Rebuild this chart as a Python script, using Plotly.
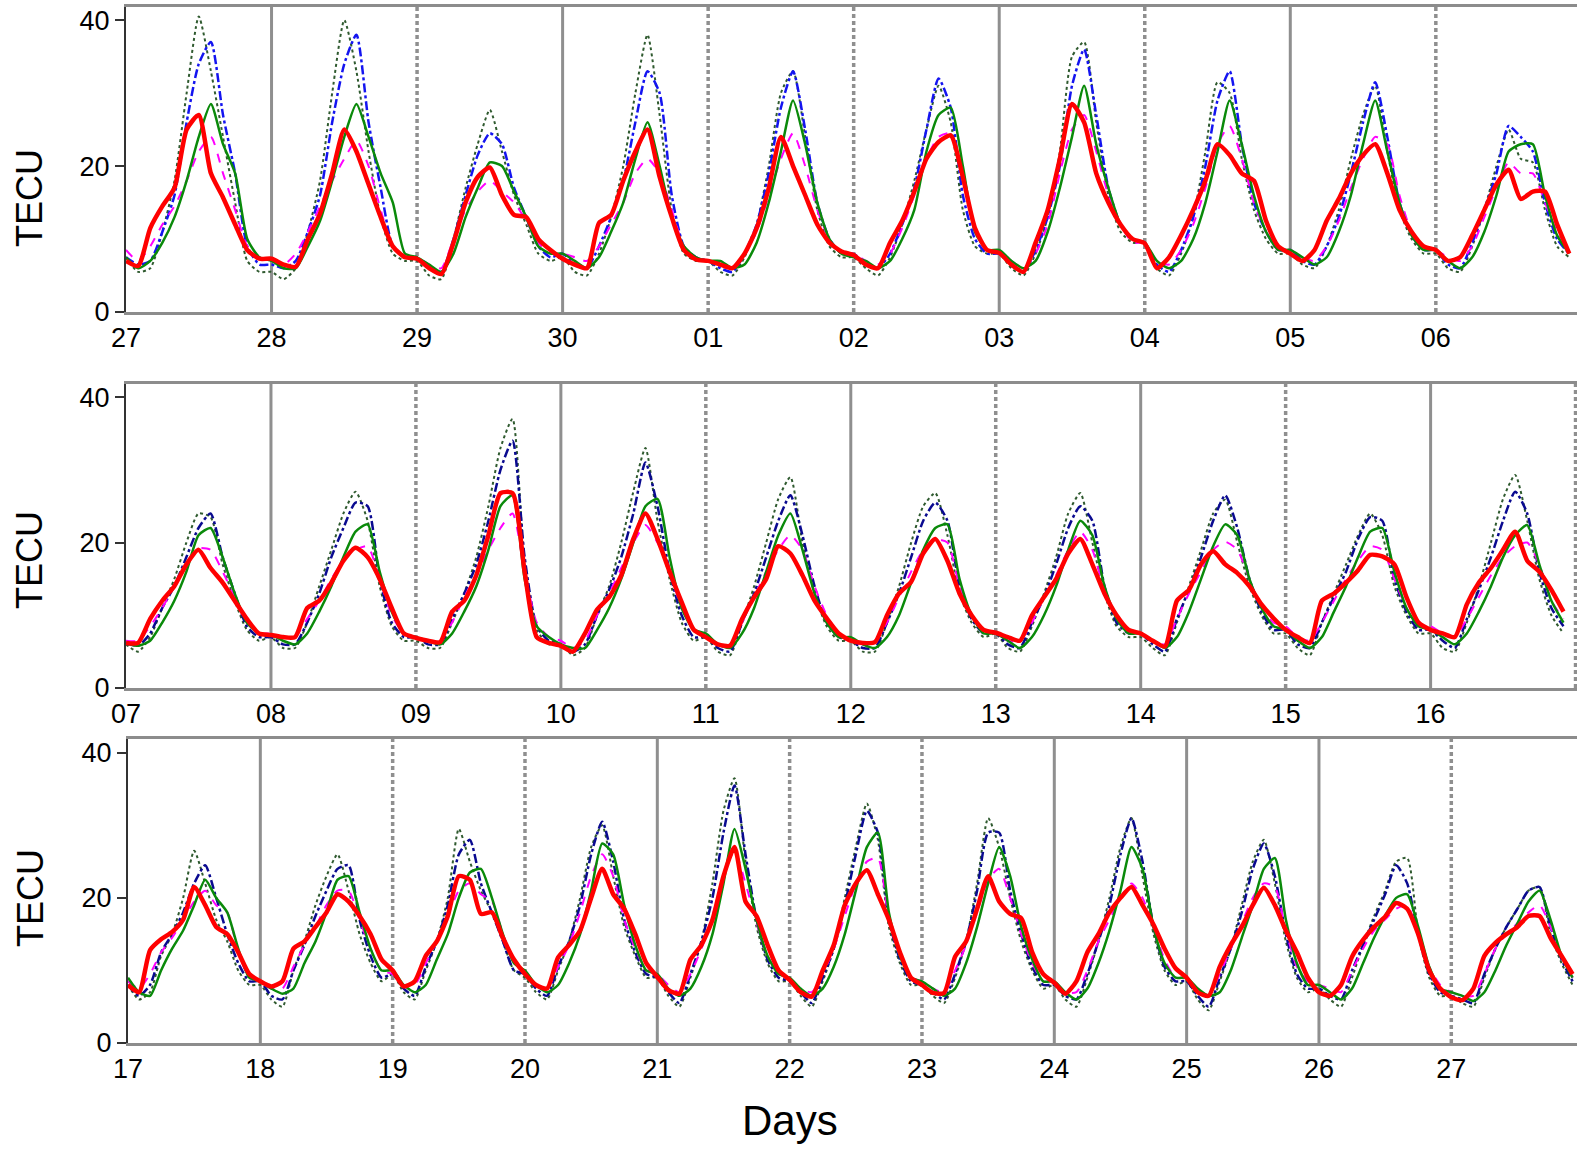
import plotly.graph_objects as go

W, H = 1577, 1149
FONT = "Liberation Sans, Arial, sans-serif"

HOURS = [0, 2, 4, 6, 8, 10, 12, 14, 16, 18, 20, 22]

P1_DAYS = ["27", "28", "29", "30", "01", "02", "03", "04", "05", "06"]
P2_DAYS = ["07", "08", "09", "10", "11", "12", "13", "14", "15", "16"]
P3_DAYS = ["17", "18", "19", "20", "21", "22", "23", "24", "25", "26", "27"]
Y_TICKS = [0, 20, 40]

# ---------------- Panel 1 ----------------
P1_RED = [
    [7, 6.3, 11.5, 14.5, 17, 25, 27, 19, 15.7, 12, 8.5, 7.3],
    [7.3, 6.5, 6.2, 10, 13.5, 19, 25, 22, 17.5, 13, 9, 7.5],
    [7.3, 6, 5.2, 9.5, 15, 18.5, 19.8, 16, 13.3, 13, 10, 8.5],
    [7.3, 6.5, 6, 12.2, 13.3, 18, 22, 25, 18.5, 13, 8.5, 7.2],
    [7, 6.5, 6, 8, 11.5, 17, 24, 20, 16, 12, 9.5, 8.3],
    [7.8, 6.5, 6, 9.5, 12.5, 16.5, 21, 23.3, 24.2, 18.5, 11.5, 8.5],
    [8.1, 6.5, 5.5, 9.5, 14, 21, 28.5, 26, 19, 15, 12, 10],
    [9.4, 6, 7.5, 10.5, 14, 18, 23, 21.5, 19, 18, 12.5, 9],
    [8, 7, 8.5, 12.5, 15.5, 19, 21.5, 23, 19, 14, 11, 9],
    [8.5, 7, 7.5, 10.5, 14, 17.5, 19.5, 15.5, 16.5, 16.5, 12, 8],
]
P1_GREEN = [
    [7.5, 6, 7, 9.5, 13, 18, 24, 28.5, 23, 19, 10, 7.5],
    [7, 6, 6, 9, 12.5, 18, 24, 28.5, 24, 19, 15, 8],
    [7.5, 6.5, 5.5, 8, 13, 17, 20.5, 20, 16.5, 13, 9, 8],
    [8, 7, 6, 7.5, 11, 15, 21, 26, 20, 13, 9, 7.5],
    [7, 7, 6, 6.5, 9.5, 15, 22, 29, 23, 15, 10, 8],
    [7.5, 7, 6, 7, 10, 14, 22, 27, 28, 20, 11, 8.5],
    [8.5, 7, 6, 7, 11, 17, 24, 31, 23, 17, 12, 10],
    [9.5, 7, 6, 7, 10, 15, 22, 29, 23, 16, 11, 8.5],
    [8.5, 7.5, 6.5, 7.5, 11, 16, 23, 29, 22, 15, 10.5, 8.5],
    [8.5, 7, 6, 7.5, 11, 16, 22, 23, 23, 16, 10.5, 8],
]
P1_MAG = [
    [8.5, 7, 9, 12, 14.5, 18, 22, 24, 19, 14, 9, 7.5],
    [7, 6.5, 8, 11, 14.5, 18, 21, 23.5, 20, 14, 9, 7.5],
    [7.5, 6.5, 6, 10, 14, 16.5, 18, 16.5, 15, 12.5, 9.5, 8],
    [8, 7.5, 7, 9, 12, 15, 19, 21, 19, 14, 9, 7.5],
    [7, 6.5, 6, 8, 11, 16, 21, 24.5, 20, 14, 10, 8],
    [8, 7, 6.5, 8, 11.5, 16, 21, 24, 24.5, 19, 11, 8.5],
    [8, 7, 6, 8, 12, 19, 25, 27, 22, 16, 12, 9.5],
    [9.5, 7, 6.5, 8.5, 12, 17, 23, 25.5, 21, 15, 11, 8.5],
    [8.5, 7.5, 7, 9, 12.5, 17, 21, 24, 23, 16, 11, 9],
    [8.5, 7.5, 7, 9, 13, 17, 20.5, 19, 19, 15, 11, 8.5],
]
P1_BLUE = [
    [7.5, 6.5, 7, 11, 16, 26, 34, 37, 27, 19, 9, 6.5],
    [6.5, 6, 7, 11, 16, 26, 34, 38, 26, 17, 9, 7.5],
    [7.5, 6, 5.5, 10, 16, 21.5, 24.5, 23, 17, 13, 9, 7.5],
    [8, 6.5, 6, 9, 13, 18, 26, 33, 30, 16, 9, 7.5],
    [7, 6, 5.5, 8, 12, 19, 28, 33, 25, 15, 10, 8],
    [8, 6.5, 6, 8, 12, 17, 25, 32, 28, 16, 10, 8],
    [8, 6.5, 5.5, 8.5, 13, 20, 31, 36, 27, 17, 12, 10],
    [9.5, 6.5, 5.5, 8.5, 13, 20, 29, 33, 23, 15, 11, 8.5],
    [8.5, 7, 6.5, 9, 13, 19, 26, 31.5, 24, 15, 10.5, 8.5],
    [8.5, 6.5, 6, 9.5, 14, 19, 25.5, 24, 22, 15, 10, 8],
]
P1_ENV = [
    [7.5, 5.5, 6, 11, 18, 30, 40.5, 33, 24, 15, 7, 5.5],
    [5.5, 4.5, 6, 11, 18, 30, 40, 33, 22, 13, 8, 7],
    [7, 5, 4.5, 10, 17, 23, 27.7, 22, 16, 12, 8, 7],
    [7.5, 5.5, 5, 8, 13, 20, 30, 38, 27, 14, 8, 7],
    [7, 5.5, 5, 7.5, 12, 20, 30, 33, 24, 14, 9, 7.5],
    [7.5, 6, 5, 7.5, 12, 18, 25, 31, 26, 14, 9, 8],
    [8, 6, 5, 8, 13, 22, 35, 37, 26, 16, 11, 9.5],
    [9.5, 6, 5, 8, 13, 22, 31.5, 30, 21, 14, 10, 8],
    [8, 6.5, 6, 9, 14, 21, 27, 31, 22, 14, 10, 8],
    [8, 6, 5.5, 9, 14, 20, 25, 21, 20.5, 14, 9, 7.5],
]

# ---------------- Panel 2 ----------------
P2_RED = [
    [6.2, 6.2, 9.5, 12, 14, 17, 19, 16.5, 14.5, 12, 9.5, 7.5],
    [7.3, 7, 7, 11, 12, 14.5, 17.5, 19.3, 18, 15, 11, 7.5],
    [6.9, 6.5, 6.3, 10.5, 12, 15.5, 21, 26.8, 26.8, 16, 7, 6.2],
    [5.8, 5, 7.5, 10.8, 12.5, 15.5, 20.5, 24, 20.5, 16, 11.8, 8],
    [7, 6, 5.8, 9.5, 12.5, 15, 19.5, 18.5, 15.5, 12, 9.6, 7.5],
    [6.5, 6.2, 6.3, 10, 13, 14.6, 18.5, 20.5, 17.5, 13, 10, 8],
    [7.6, 7, 6.5, 10, 12.5, 15, 18.5, 20.5, 17, 13, 10, 8],
    [7.5, 6.5, 5.7, 12, 13.5, 17, 18.8, 17, 15.8, 14, 11.5, 9.6],
    [8, 7, 6.2, 12, 13, 14.5, 16.2, 18.3, 18.1, 17, 12.5, 9],
    [8, 7.5, 7, 11.5, 14.5, 16.5, 19, 21.5, 17.5, 16, 13.5, 10.5],
]
P2_GREEN = [
    [6.2, 5.8, 6.5, 9, 12, 16, 21, 22, 18, 13, 9, 7.5],
    [7.3, 6.5, 6, 7.5, 10.5, 14, 18, 21.5, 22.5, 16, 10.5, 7.5],
    [7, 6.5, 6, 7.5, 10.5, 14, 19, 25, 26.5, 15, 8.5, 7],
    [6, 5.5, 5.5, 8, 11, 15, 20, 25, 26, 18, 11, 8],
    [7.5, 6, 5.5, 7.5, 11, 16, 21, 24, 19, 13, 9, 7],
    [7, 6, 5.5, 7, 10, 14.5, 19, 22, 22.5, 15, 10, 7.5],
    [7.5, 6.5, 5.5, 7, 10, 14, 19, 23, 21, 14, 9.5, 7.5],
    [7.5, 6.5, 5.5, 7, 10.5, 15, 19.5, 22.5, 21, 15, 11, 8.5],
    [8, 6.5, 5.5, 7, 10.5, 14, 18, 21.5, 22, 16, 11, 8.5],
    [8, 7, 6, 7.5, 10.5, 14, 18, 21, 22.4, 17, 12, 9],
]
P2_MAG = [
    [6.5, 6.5, 8.5, 11, 14, 17, 19.2, 19, 16, 12.5, 9, 7.5],
    [7.5, 7, 7, 9.5, 12, 15, 17.5, 19, 19.5, 15, 10, 7.5],
    [7, 6.5, 6.5, 9, 12.5, 15.5, 19, 22, 24, 16, 9, 7],
    [6.5, 5.5, 6.5, 10, 13, 16.5, 20, 22.4, 20, 16, 11, 8],
    [7, 6, 6, 9, 12.5, 16, 19, 21, 19, 14, 10, 7.5],
    [6.5, 6, 6.5, 9, 12.5, 16, 19, 20.4, 20, 14, 10, 8],
    [7.5, 6.5, 6.5, 9, 12.5, 15.5, 19, 21.5, 19, 13.5, 10, 8],
    [7.5, 6.5, 6, 9.5, 13, 16, 19, 20.1, 19, 15, 11, 9],
    [8.5, 7, 6.5, 9, 12, 15, 17.5, 19.5, 19, 15, 11, 8.5],
    [8.5, 7.5, 7, 9.5, 12.5, 15.5, 18, 19.5, 20, 17, 12, 9.5],
]
P2_BLUE = [
    [6.2, 5.8, 7.5, 11, 14, 18, 22, 24, 18, 13, 8.5, 7],
    [7, 6, 6, 9, 13, 18, 22, 25.5, 25, 15, 9, 7],
    [7, 6, 6, 9.5, 13, 17, 23, 30, 34, 18, 8.5, 6.5],
    [6, 5, 6, 10, 13.5, 18, 24, 31, 25, 16, 10, 7],
    [7, 5.5, 5, 9, 13, 18, 23, 26.5, 21, 14, 9, 7],
    [6.5, 5.5, 5.5, 9, 13, 18, 23, 25.5, 23, 14, 9.5, 7.5],
    [7.5, 6, 5.5, 9, 12.5, 17, 22, 25, 23, 14, 9, 7.5],
    [7.5, 6, 5, 9.5, 13.5, 18, 23, 26.5, 22, 15, 10.5, 8],
    [8, 6, 5.5, 9, 12.5, 16, 20.5, 23.5, 23, 15, 10.5, 8],
    [8, 6.5, 5.5, 9.5, 13.5, 18, 23, 27, 24, 16, 11, 8.5],
]
P2_ENV = [
    [6, 5, 7, 11, 15, 20, 24, 23.5, 17, 12, 8, 6.5],
    [7, 5.5, 5.5, 9, 14, 19, 24, 27, 23, 14, 8.5, 6.5],
    [6.5, 5.5, 5.5, 9, 13, 18, 25, 33, 37, 17, 8, 6],
    [6, 4.5, 5.5, 10, 14, 20, 27, 33, 23, 15, 9, 6.5],
    [7, 5, 4.5, 9, 14, 20, 26, 29, 20, 13, 8.5, 6.5],
    [6.5, 5, 5, 9, 14, 20, 25, 26.8, 21, 13, 9, 7],
    [7.5, 5.5, 5, 8.5, 13, 18, 24, 26.8, 20, 13, 8.5, 7],
    [7, 5.5, 4.5, 9, 14, 19, 24, 25.9, 20, 14, 10, 7.5],
    [7.5, 5.5, 4.5, 9, 13, 17, 21, 24, 21, 14, 10, 7.5],
    [7.5, 5.5, 5, 9, 14, 20, 26, 29.3, 23, 15, 10, 7.5],
]

# ---------------- Panel 3 ----------------
P3_RED = [
    [8, 7, 12.8, 14.3, 15.3, 17, 21.5, 19, 16, 15, 12.5, 9.5],
    [8.5, 7.8, 8.5, 13, 14, 16, 18, 20.5, 19.5, 17.5, 15, 11.5],
    [10, 7.8, 8.5, 12, 14, 17.5, 23, 22.5, 17.8, 18, 14.5, 11.5],
    [9.5, 8, 7.5, 11.8, 13.5, 15.5, 20, 24, 20.5, 18.5, 15, 11],
    [9.1, 7.3, 6.8, 11.5, 13.5, 17, 23, 27, 19.5, 17.5, 13.5, 10],
    [8.7, 7, 6.4, 10, 13.5, 19, 22, 23.8, 20.5, 17, 12.5, 9],
    [8, 6.9, 6.9, 11.9, 14, 18.5, 23, 19.5, 17.8, 17.2, 12.5, 9.5],
    [8.3, 6.8, 8.5, 12.5, 15, 18, 20, 21.5, 19, 16.3, 13, 10.3],
    [9, 7, 6.5, 10.5, 13.5, 16, 19, 21.4, 19, 15.5, 12.5, 9],
    [7, 6.5, 8, 11.9, 14.2, 16, 17.4, 19.3, 18.5, 15, 10, 7.5],
    [6.3, 5.9, 7.5, 12, 13.8, 15, 16, 17.5, 17.5, 14.5, 12, 9.5],
]
P3_GREEN = [
    [9, 7, 6.5, 10, 13, 15.5, 19, 22.5, 20, 18, 13, 9],
    [8.5, 7.5, 6.8, 7.5, 11, 14, 18, 22.5, 23, 18, 13, 10],
    [10, 8, 7, 8, 11.5, 15, 20, 23.5, 24, 20, 15, 11],
    [10, 8, 7, 8, 11, 15, 21, 27.5, 26, 19, 13.5, 10],
    [9.5, 7.5, 6.5, 7.5, 10.5, 15, 22, 29.5, 24, 17, 12, 9.5],
    [9, 7.5, 6.5, 7.5, 10.5, 15, 21, 27, 29, 18, 12, 9],
    [8.5, 7.5, 6.5, 7.5, 11, 16, 22, 27, 23, 16, 11.5, 8.5],
    [8.5, 7, 6, 7.5, 11, 15.5, 21, 27, 24, 16, 11, 9],
    [9, 7.5, 6.5, 7, 10, 14.5, 19, 24, 25.5, 17, 11, 8],
    [8, 7, 6, 7.5, 11, 14.5, 17.5, 20, 20.5, 16, 10.5, 7.5],
    [7, 6.5, 5.8, 7, 10, 13.5, 16.5, 19.5, 21, 17, 12, 9],
]
P3_MAG = [
    [8.5, 7.5, 9.5, 12.5, 14.5, 17, 19.5, 21, 19, 18, 12.5, 9],
    [8.5, 7.5, 7.5, 10.5, 13.5, 16, 19, 21, 21, 17, 13, 10],
    [9.5, 8, 8, 11, 14, 17.5, 21, 22, 20.5, 19.5, 15, 11],
    [9.5, 8, 7.5, 10.5, 13.5, 18, 23, 26, 23, 17, 13, 10],
    [9.5, 8, 7, 9.5, 13, 17.5, 23, 26.5, 22, 16.5, 12, 9.5],
    [9, 7.5, 7, 9.5, 13, 17.5, 22, 25, 25.5, 17, 12, 9],
    [8.5, 7.5, 7, 10, 13.5, 18, 22.5, 24, 20, 15, 11, 8.5],
    [8.5, 7, 7, 10, 14, 17, 20, 22, 20, 16, 11.5, 9],
    [9, 7.5, 6.5, 9.5, 13, 16.5, 20, 22, 21.5, 15.5, 10.5, 8.5],
    [8, 7.5, 7, 10, 13, 15.5, 17, 18.5, 19, 15, 10.5, 8],
    [7, 6.5, 6.5, 9.5, 13, 15, 16.5, 18, 19, 16, 12, 9],
]
P3_BLUE = [
    [8, 6.5, 8, 12.5, 15, 18, 22, 24.5, 20, 15, 11, 8.5],
    [8.5, 6.5, 6, 10, 13.5, 17.5, 21, 24, 24.5, 17, 12, 9],
    [9.5, 7.5, 6.5, 10.5, 14, 19, 26, 28, 22, 18, 14, 10],
    [9.5, 7.5, 6.5, 10.5, 14, 19, 26, 30.5, 25, 17, 12.5, 9.5],
    [9, 7, 5.5, 9.5, 14, 20, 29, 35.5, 26, 17, 11.5, 9],
    [8.5, 7, 5.5, 9, 13, 19, 26, 32, 29, 17, 11.5, 8.5],
    [8, 7, 6, 9.5, 14, 21, 29, 29, 21, 15, 10.5, 8],
    [8, 6.5, 6, 9.5, 14, 19, 26, 31, 25, 16, 10.5, 8.5],
    [8.5, 6.5, 5, 9, 13, 18, 24, 27.5, 23, 15, 9.5, 7.5],
    [7.5, 6.5, 6, 10, 13.5, 17, 20.5, 24.5, 22, 15, 9.5, 7],
    [6.5, 6, 5.5, 9.5, 13, 16, 18.5, 21, 21.5, 16, 11.5, 8.5],
]
P3_ENV = [
    [8, 6, 7, 12, 15, 20, 26.5, 22, 17, 14, 10, 8],
    [8, 6, 5, 10, 14, 19, 23, 26, 21, 15, 11, 8.5],
    [9.5, 7, 6, 10, 14, 20, 29.5, 25, 21, 18, 14, 10],
    [9, 7, 6, 10, 14, 20, 27, 30, 23, 16, 12, 9],
    [9, 6.5, 5, 9, 14, 22, 32, 36.5, 25, 16, 11, 8.5],
    [8.5, 6.5, 5, 8.5, 13, 20, 27, 33, 28, 16, 11, 8],
    [8, 6.5, 5.5, 9, 14, 22, 31, 27, 20, 14, 10, 7.5],
    [8, 6, 5, 9, 14, 20, 27, 31, 23, 15, 10, 8],
    [8.5, 6, 4.5, 8.5, 13, 19, 25, 28, 22, 14, 9, 7],
    [7.5, 6, 5, 9, 13.5, 17.5, 21, 25, 25.5, 15, 9, 6.5],
    [6.5, 5.5, 5, 9, 13, 16, 18.5, 21, 21.5, 15, 11, 8],
]

# day-boundary line styles (day 1 .. last)
P1_GRID = ["solid", "dot", "solid", "dot", "dot", "solid", "dot", "solid", "dot"]
P2_GRID = ["solid", "dot", "solid", "dot", "solid", "dot", "solid", "dot", "solid", "dot"]
P3_GRID = ["solid", "dot", "dot", "solid", "dot", "dot", "solid", "solid", "solid", "dot"]

panels = [
    dict(days=P1_DAYS, red=P1_RED, green=P1_GREEN, mag=P1_MAG, blue=P1_BLUE, env=P1_ENV,
         grid=P1_GRID, xdom=[126 / W, 1], ydom=[1 - 312 / H, 1 - 7 / H], xr=[0, 9.97], yr=[0, 41.8],
         blue_col="#1414f0", tecu_y=198),
    dict(days=P2_DAYS, red=P2_RED, green=P2_GREEN, mag=P2_MAG, blue=P2_BLUE, env=P2_ENV,
         grid=P2_GRID, xdom=[126 / W, 1], ydom=[1 - 688 / H, 1 - 384 / H], xr=[0, 10.01], yr=[0, 41.8],
         blue_col="#0a0a90", tecu_y=560),
    dict(days=P3_DAYS, red=P3_RED, green=P3_GREEN, mag=P3_MAG, blue=P3_BLUE, env=P3_ENV,
         grid=P3_GRID, xdom=[128 / W, 1], ydom=[1 - 1043 / H, 1 - 739 / H], xr=[0, 10.95], yr=[0, 41.9],
         blue_col="#0a0a90", tecu_y=898),
]

fig = go.Figure()


def flat(daylists):
    return [v for d in daylists for v in d]


for i, p in enumerate(panels):
    n = len(p["days"])
    t = [d + h / 24 for d in range(n) for h in HOURS]
    xa = "x" if i == 0 else f"x{i + 1}"
    ya = "y" if i == 0 else f"y{i + 1}"
    series = [
        (p["env"], dict(color="#2f5a2f", width=2, dash="dot")),
        (p["blue"], dict(color=p["blue_col"], width=2.5, dash="dashdot")),
        (p["mag"], dict(color="#ff00ff", width=2, dash="dash")),
        (p["green"], dict(color="#0a8a0a", width=2.5)),
        (p["red"], dict(color="#ff0000", width=4.5)),
    ]
    for vals, line in series:
        line = dict(line, shape="spline", smoothing=0.6)
        fig.add_trace(go.Scatter(x=t, y=flat(vals), mode="lines", line=line,
                                 xaxis=xa, yaxis=ya, showlegend=False, hoverinfo="skip"))
    for k, style in enumerate(p["grid"], start=1):
        fig.add_shape(type="line", xref=xa, yref=f"{ya} domain", x0=k, x1=k, y0=0, y1=1,
                      line=dict(color="#8f8f8f", width=3.5 if style == "dot" else 3,
                                dash="4px,3px" if style == "dot" else "solid"),
                      layer="below")
    axkey = "xaxis" if i == 0 else f"xaxis{i + 1}"
    aykey = "yaxis" if i == 0 else f"yaxis{i + 1}"
    fig.update_layout(**{
        axkey: dict(domain=p["xdom"], range=p["xr"], anchor=ya, tickvals=list(range(n)),
                    ticktext=p["days"], showline=True, linecolor="#8c8c8c", linewidth=3,
                    mirror=True, showgrid=False, zeroline=False, ticks="", automargin=False,
                    tickfont=dict(size=27, color="black", family=FONT)),
        aykey: dict(domain=p["ydom"], range=p["yr"], anchor=xa, tickvals=Y_TICKS,
                    showline=True, linecolor="#333333", linewidth=2, ticks="outside",
                    ticklen=9, tickwidth=1.5, tickcolor="#333333", showgrid=False,
                    zeroline=False, automargin=False,
                    tickfont=dict(size=27, color="black", family=FONT)),
    })
    fig.add_annotation(text="TECU", xref="paper", yref="paper", x=30 / W, y=1 - p["tecu_y"] / H,
                       xanchor="center", yanchor="middle", textangle=-90, showarrow=False,
                       font=dict(size=36, color="black", family=FONT))

fig.add_annotation(text="Days", xref="paper", yref="paper", x=790 / W, y=1 - 1120 / H,
                   xanchor="center", yanchor="middle",
                   showarrow=False, font=dict(size=42, color="black", family=FONT))

fig.update_layout(width=W, height=H, margin=dict(l=0, r=0, t=0, b=0, autoexpand=False),
                  paper_bgcolor="white", plot_bgcolor="white", showlegend=False)

fig.write_html("out.html")
